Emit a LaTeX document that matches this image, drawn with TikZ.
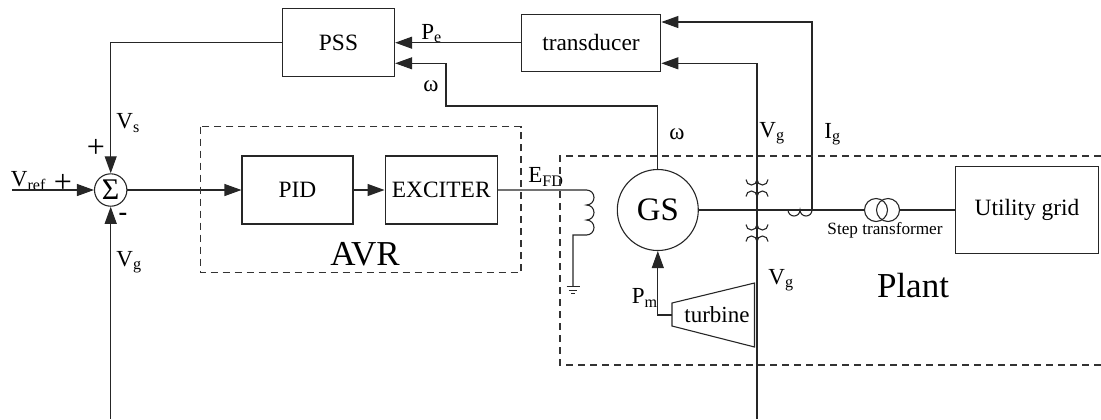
\documentclass[tikz,border=0pt]{standalone}
\usepackage{fontspec}
\setmainfont{Liberation Serif}
\usepackage{tikz}
\usetikzlibrary{calc, shapes, arrows, arrows.meta}

\begin{document}
\begin{tikzpicture}[x=0.5pt,y=-0.5pt]
\tikzstyle{block}=[draw=black!85,line width=0.55pt,inner sep=0pt,font=\fontsize{11.7}{14}\selectfont]
\tikzstyle{sig}=[inner sep=0pt,font=\fontsize{11.5}{14}\selectfont]
\tikzstyle{big}=[inner sep=0pt,font=\fontsize{17.5}{20}\selectfont]
\tikzstyle{wire}=[draw=black!85,line width=0.55pt]
\tikzstyle{arr}=[wire,-{Triangle[length=8.5pt,width=6pt]}]
\tikzstyle{frame}=[draw=black!80,line width=0.55pt,dash pattern=on 3.5pt off 2.5pt]
\useasboundingbox (0,0) rectangle (1101,419);
\node[block,minimum width=56.1pt,minimum height=33.8pt] (PSS) at (338.5,42.7) {PSS};
\node[block,minimum width=69.8pt,minimum height=28.5pt] (TD) at (591,42.7) {transducer};
\node[block,circle,minimum size=16.2pt,font=\fontsize{15}{16}\selectfont] (SUM) at (110.7,190) {Σ};
\node[block,minimum width=55.5pt,minimum height=34pt] (PID) at (297.5,190) {PID};
\node[block,minimum width=56.1pt,minimum height=34pt] (EXC) at (441.2,190) {EXCITER};
\node[block,circle,minimum size=40.5pt,font=\fontsize{16.4}{18}\selectfont] (GS) at (657.8,210) {GS};
\node[block,minimum width=71.3pt,minimum height=43.3pt] (UG) at (1027,210) {Utility grid};
\node[wire,circle,minimum size=11.5pt,inner sep=0pt] (ST1) at (876,210) {};
\node[wire,circle,minimum size=11.5pt,inner sep=0pt] (ST2) at (888,210) {};
\node[inner sep=0pt,font=\fontsize{8.6}{10}\selectfont] (STL) at (885,230) {Step transformer};
\node[sig] (TB) at (717,315) {turbine};
\node[big] (AVR) at (365,254) {AVR};
\node[big] (PL) at (913,286) {Plant};

\node[sig,anchor=west] (L_pe) at (421,33.5) {P\textsubscript{e}};
\node[sig,anchor=west] (L_w1) at (423,86) {ω};
\node[sig,anchor=west] (L_vs) at (116,123) {V\textsubscript{s}};
\node[sig,anchor=west] (L_vr) at (10.5,181) {V\textsubscript{ref}};
\node[sig,anchor=west] (L_vg1) at (116,262) {V\textsubscript{g}};
\node[sig,anchor=west] (L_efd) at (528,177) {E\textsubscript{FD}};
\node[sig,anchor=west] (L_w2) at (669,134) {ω};
\node[sig,anchor=west] (L_vg2) at (759,133) {V\textsubscript{g}};
\node[sig,anchor=west] (L_ig) at (824,134) {I\textsubscript{g}};
\node[sig,anchor=west] (L_pm) at (631.5,298) {P\textsubscript{m}};
\node[sig,anchor=west] (L_vg3) at (768,280) {V\textsubscript{g}};
\node[sig,font=\fontsize{16}{18}\selectfont] (P_1) at (96,148) {+};
\node[sig,font=\fontsize{16}{18}\selectfont] (P_2) at (63,183) {+};
\node[sig,font=\bfseries\fontsize{13}{14}\selectfont] (M_1) at (123,217) {-};

\coordinate (vref) at (12,190);
\coordinate (vgl) at (110.7,419);
\coordinate (vgr) at (757,419);
\coordinate (wk) at (446,106);
\coordinate (CT) at (812,210);
\coordinate (fd) at (586.5,190);
\coordinate (tbin) at (672,315);

\draw[arr] (TD.west) -- (PSS.east);
\draw[arr] (PSS.west) -| (SUM.north);
\draw[arr] (vref) -- (SUM.west);
\draw[arr] (vgl) -- (SUM.south);
\draw[arr] (SUM.east) -- (PID.west);
\draw[arr] (PID.east) -- (EXC.west);
\draw[arr] (GS.north) |- (wk) |- ($(PSS.east)+(0,20.6)$);
\draw[arr] (CT) |- ($(TD.east)+(0,-20.7)$);
\draw[arr] (vgr) |- ($(TD.east)+(0,20.6)$);
\draw[arr] (tbin) -| (GS.south);
\draw[wire] (GS.east) -- (ST1.west);
\draw[wire] (ST2.east) -- (UG.west);
\draw[wire] (EXC.east) -- (fd) arc[start angle=90,end angle=-90,radius=3.75pt]
  arc[start angle=90,end angle=-90,radius=3.75pt] arc[start angle=90,end angle=-90,radius=3.75pt]
  -- (573,235) -- (573,286.7);
\draw[wire] (566.5,286.7) -- (579.5,286.7) (568.8,290.2) -- (577.2,290.2) (571,293.4) -- (575,293.4);
\draw[wire] (788,210) arc[start angle=180,end angle=360,radius=3pt] arc[start angle=180,end angle=360,radius=3pt];
\foreach \y in {179.5,224.5} {
  \draw[wire] (746,\y) arc[start angle=180,end angle=360,radius=2.75pt] arc[start angle=180,end angle=360,radius=2.75pt];
  \draw[wire] (746,\y+17) arc[start angle=180,end angle=0,radius=2.75pt] arc[start angle=180,end angle=0,radius=2.75pt];
}
\draw[wire] (672,303) -- (754.5,283) -- (754.5,347) -- (672,326) -- cycle;
\draw[frame] (200.6,126.7) rectangle (521,272.7);
\draw[frame] (1101,156) -- (560,156) -- (560,365) -- (1101,365);
\end{tikzpicture}
\end{document}
